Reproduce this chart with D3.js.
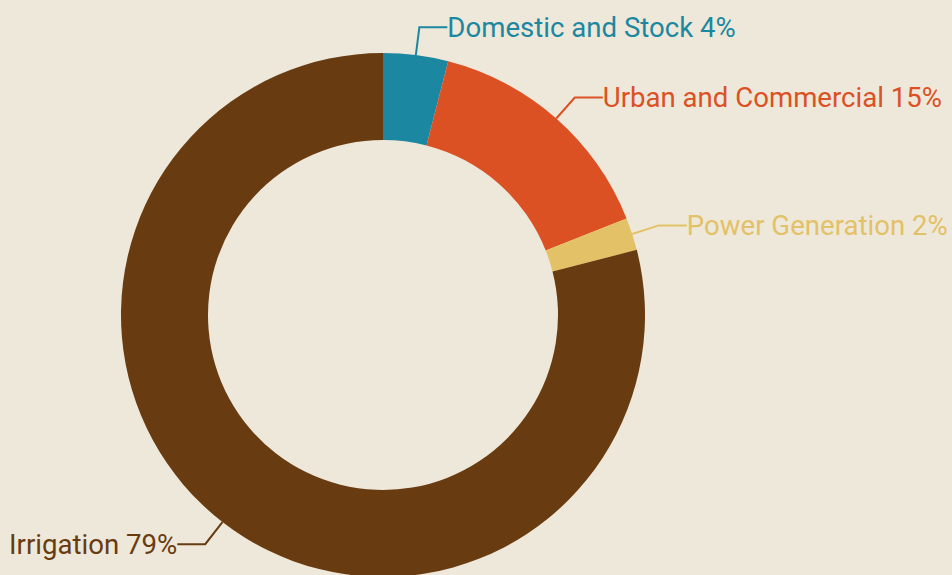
<!DOCTYPE html>
<html>
<head>
<meta charset="utf-8">
<script src="https://cdn.jsdelivr.net/npm/d3@7/dist/d3.min.js"></script>
<style>
html, body { margin: 0; padding: 0; background: #eee8da; }
svg { display: block; }
</style>
</head>
<body>
<svg id="chart" width="952" height="575"></svg>
<script>
const categories = ["Domestic and Stock", "Urban and Commercial", "Power Generation", "Irrigation"];
const values = [4, 15, 2, 79];
const colors = ["#1c87a0", "#db5124", "#e3c166", "#693b10"];

const W = 952, H = 575;
const cx = 383, cy = 315, outerR = 262, innerR = 175;
const radialLen = 28, horizLen = 28, textGap = 0;

const svg = d3.select("#chart");
svg.append("rect").attr("width", W).attr("height", H).attr("fill", "#eee8da");
const g = svg.append("g").attr("transform", `translate(${cx},${cy})`);

const data = categories.map((c, i) => ({ name: c, value: values[i], color: colors[i] }));
const pie = d3.pie().value(d => d.value).sort(null);
const arc = d3.arc().innerRadius(innerR).outerRadius(outerR);
const arcs = pie(data);

g.selectAll("path.slice").data(arcs).join("path")
  .attr("class", "slice")
  .attr("d", arc)
  .attr("fill", d => d.data.color);

arcs.forEach(d => {
  const a = (d.startAngle + d.endAngle) / 2;
  const sx = Math.sin(a), sy = -Math.cos(a);
  const p0 = [sx * outerR, sy * outerR];
  const p1 = [sx * (outerR + radialLen), sy * (outerR + radialLen)];
  const right = sx >= 0;
  const p2 = [p1[0] + (right ? horizLen : -horizLen), p1[1]];
  g.append("polyline")
    .attr("points", [p0, p1, p2].map(p => p.join(",")).join(" "))
    .attr("fill", "none")
    .attr("stroke", d.data.color)
    .attr("stroke-width", 2);
  g.append("text")
    .attr("x", p2[0] + (right ? textGap : -textGap))
    .attr("y", p2[1])
    .attr("dy", "0.35em")
    .attr("text-anchor", right ? "start" : "end")
    .attr("font-family", "Roboto, sans-serif")
    .attr("font-size", 27.6)
    .attr("fill", d.data.color)
    .text(`${d.data.name} ${d.data.value}%`);
});
</script>
</body>
</html>
